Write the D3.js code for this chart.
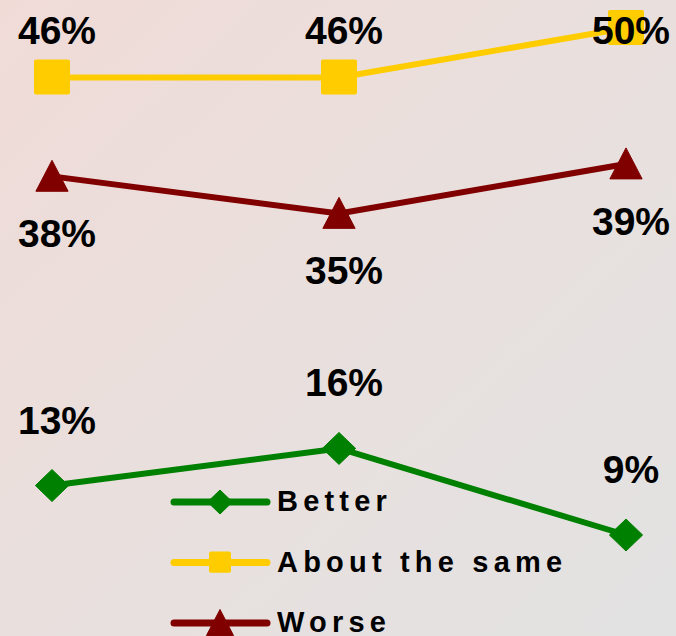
<!DOCTYPE html>
<html>
<head>
<meta charset="utf-8">
<script src="https://cdn.jsdelivr.net/npm/d3@7"></script>
<style>
  html, body { margin: 0; padding: 0; }
  body { width: 676px; height: 636px; overflow: hidden; }
  svg { display: block; font-family: 'Liberation Sans', Arial, sans-serif; }
</style>
</head>
<body>
<div id="chart"></div>
<script>
// the three survey waves (no axis is shown on the chart)
const waves = ['Wave 1', 'Wave 2', 'Wave 3']

const better = [13, 16, 9]
const aboutSame = [46, 46, 50]
const worse = [38, 35, 39]

const seriesNames = ['Better', 'About the same', 'Worse']

const width = 676
const height = 636

const series = [
  { name: seriesNames[1], values: aboutSame, color: '#ffcc00', shape: 'square', label: 'above' },
  { name: seriesNames[2], values: worse, color: '#800000', shape: 'triangle', label: 'below' },
  { name: seriesNames[0], values: better, color: '#008000', shape: 'diamond', label: 'high' },
]

const svg = d3.select('#chart')
  .append('svg')
  .attr('width', width)
  .attr('height', height)

// soft pink -> grey background
const grad = svg.append('defs')
  .append('linearGradient')
  .attr('id', 'bg')
  .attr('x1', 0).attr('y1', 0)
  .attr('x2', 1).attr('y2', 1)
grad.append('stop').attr('offset', '0%').attr('stop-color', '#f0dbd7')
grad.append('stop').attr('offset', '55%').attr('stop-color', '#e8e0de')
grad.append('stop').attr('offset', '100%').attr('stop-color', '#e2e2e2')

svg.append('rect')
  .attr('width', width)
  .attr('height', height)
  .attr('fill', 'url(#bg)')

const x = d3.scalePoint().domain(waves).range([52, 626])
const y = d3.scaleLinear().domain([9, 50]).range([535, 28])

// marker shapes, centred on 0,0
function markerPath(shape, s) {
  if (shape === 'square') {
    return null
  }
  if (shape === 'triangle') {
    return `M0,${-s * 0.52}L${s * 0.52},${s * 0.48}L${-s * 0.52},${s * 0.48}Z`
  }
  return `M0,${-s * 0.5}L${s * 0.52},0L0,${s * 0.5}L${-s * 0.52},0Z`
}

function drawMarker(g, shape, size, color) {
  if (shape === 'square') {
    g.append('rect')
      .attr('x', -size / 2)
      .attr('y', -size / 2)
      .attr('width', size)
      .attr('height', size * 0.97)
      .attr('rx', 2)
      .attr('fill', color)
  } else {
    g.append('path')
      .attr('d', markerPath(shape, size))
      .attr('fill', color)
      .attr('stroke', color)
      .attr('stroke-width', 1)
      .attr('stroke-linejoin', 'round')
  }
}

const markerSize = { square: 36, triangle: 31, diamond: 32 }

const line = d3.line()
  .x((d, i) => x(waves[i]))
  .y((d) => y(d))

const plot = svg.append('g')

series.forEach((s) => {
  plot.append('path')
    .datum(s.values)
    .attr('d', line)
    .attr('fill', 'none')
    .attr('stroke', s.color)
    .attr('stroke-width', 6)
    .attr('stroke-linejoin', 'round')

  s.values.forEach((v, i) => {
    const g = plot.append('g')
      .attr('transform', `translate(${x(waves[i])},${y(v)})`)
    drawMarker(g, s.shape, markerSize[s.shape], s.color)
  })
})

// value labels on top of everything
const labels = svg.append('g')
  .attr('font-size', 39)
  .attr('font-weight', 'bold')
  .attr('fill', '#000')
  .attr('text-anchor', 'middle')

series.forEach((s) => {
  s.values.forEach((v, i) => {
    let ty = y(v)
    if (s.label === 'above') ty = Math.max(44, ty - 33)
    if (s.label === 'below') ty = ty + 71
    if (s.label === 'high') ty = ty - 52
    labels.append('text')
      .attr('x', x(waves[i]) + 5)
      .attr('y', ty)
      .text(v + '%')
  })
})

// legend
const legendRows = [
  { name: seriesNames[0], color: '#008000', shape: 'diamond', size: 24 },
  { name: seriesNames[1], color: '#ffcc00', shape: 'square', size: 22 },
  { name: seriesNames[2], color: '#800000', shape: 'triangle', size: 26 },
]
const legendY = d3.scalePoint().domain(legendRows.map((d) => d.name)).range([502, 623])

const legend = svg.append('g')
legendRows.forEach((r) => {
  const row = legend.append('g')
    .attr('transform', `translate(0,${legendY(r.name)})`)
  row.append('line')
    .attr('x1', 174)
    .attr('x2', 267)
    .attr('stroke', r.color)
    .attr('stroke-width', 7)
    .attr('stroke-linecap', 'round')
  const m = row.append('g').attr('transform', 'translate(220,0)')
  drawMarker(m, r.shape, r.size, r.color)
  row.append('text')
    .attr('x', 277)
    .attr('y', 9)
    .attr('font-size', 29)
    .attr('font-weight', 'bold')
    .attr('letter-spacing', 5.2)
    .attr('fill', '#000')
    .text(r.name)
})
</script>
</body>
</html>
